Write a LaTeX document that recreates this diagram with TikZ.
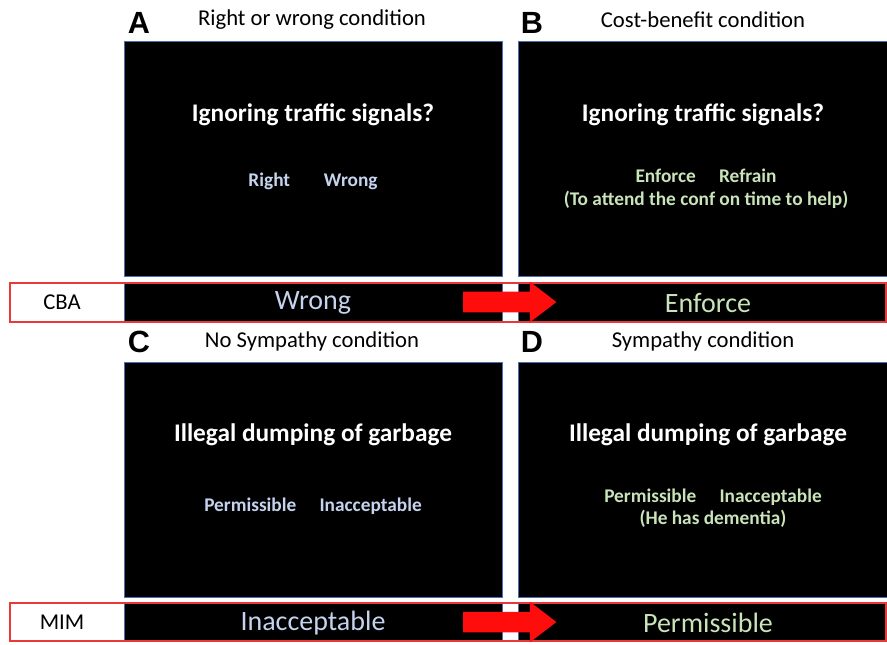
\documentclass[tikz,border=0pt]{standalone}
\usepackage{fontspec}
\setmainfont{Carlito}
\newfontfamily\letterfont{Liberation Sans}
\usetikzlibrary{shapes.arrows}
\definecolor{answerblue}{HTML}{C5D3EE}
\definecolor{answergreen}{HTML}{C9E4B8}
\definecolor{framered}{HTML}{E8383A}
\definecolor{edgeblue}{HTML}{4A6FB5}
\definecolor{arrowred}{HTML}{FF0D0D}

\begin{document}
\begin{tikzpicture}[x=0.75pt,y=-0.75pt] % one unit = one pixel of the slide, y down
\tikzstyle{panel} = [fill=black, draw=edgeblue, line width=0.6pt] % black slide
\tikzstyle{letter} = [font=\letterfont\bfseries\fontsize{23}{23}\selectfont] % panel letter
\tikzstyle{heading} = [font=\fontsize{17}{17}\selectfont] % condition above the slide
\tikzstyle{question} = [white, font=\bfseries\fontsize{19}{19}\selectfont] % question on the slide
\tikzstyle{choice} = [font=\bfseries\fontsize{14.5}{17}\selectfont, align=center] % answers on the slide
\tikzstyle{verdict} = [font=\fontsize{21}{21}\selectfont] % answer in the bar
\tikzstyle{tag} = [font=\fontsize{17}{17}\selectfont] % CBA / MIM
\tikzstyle{bigarrow} = [single arrow, fill=arrowred, inner xsep=0pt, inner ysep=7.5pt, minimum height=70pt, single arrow head extend=7.5pt, single arrow tip angle=75] % red arrow

\useasboundingbox (0,0) rectangle (887,644);

% top row
\node[letter] (la) at (139,23) {A};
\node[heading] (ha) at (312,20) {Right or wrong condition};
\node[letter] (lb) at (532,23) {B};
\node[heading] (hb) at (703,20) {Cost-benefit condition};
\draw[panel] (124,41) rectangle (502,276);
\draw[panel] (518,41) rectangle (890,276);
\node[question] (qa) at (313,115) {Ignoring traffic signals?};
\node[choice, answerblue] (ca) at (313,181) {Right\hspace{1.75em}Wrong};
\node[question] (qb) at (703,115) {Ignoring traffic signals?};
\node[choice, answergreen] (cb) at (706,189) {Enforce\hspace{1.2em}Refrain\\(To attend the conf on time to help)};

% CBA bar
\draw[panel] (124,283) rectangle (502,322);
\draw[panel] (518,283) rectangle (890,322);
\draw[framered, line width=0.8pt] (10,283) rectangle (886,322);
\node[tag] (cba) at (62,302) {CBA};
\node[verdict, answerblue] (wa) at (313,303) {Wrong};
\node[verdict, answergreen] (wb) at (708,303) {Enforce};
\node[bigarrow] (ar1) at (503,302) {};

% bottom row
\node[letter] (lc) at (139,342) {C};
\node[heading] (hc) at (312,341) {No Sympathy condition};
\node[letter] (ld) at (532,342) {D};
\node[heading] (hd) at (703,341) {Sympathy condition};
\draw[panel] (124,362) rectangle (502,597);
\draw[panel] (518,362) rectangle (890,597);
\node[question] (qc) at (313,435) {Illegal dumping of garbage};
\node[choice, answerblue] (cc) at (313,506) {Permissible\hspace{1.2em}Inacceptable};
\node[question] (qd) at (708,435) {Illegal dumping of garbage};
\node[choice, answergreen] (cd) at (713,508) {Permissible\hspace{1.2em}Inacceptable\\(He has dementia)};

% MIM bar
\draw[panel] (124,603) rectangle (502,641);
\draw[panel] (518,603) rectangle (890,641);
\draw[framered, line width=0.8pt] (10,603) rectangle (886,641);
\node[tag] (mim) at (62,622) {MIM};
\node[verdict, answerblue] (wc) at (313,623) {Inacceptable};
\node[verdict, answergreen] (wd) at (708,623) {Permissible};
\node[bigarrow] (ar2) at (503,622) {};
\end{tikzpicture}
\end{document}
